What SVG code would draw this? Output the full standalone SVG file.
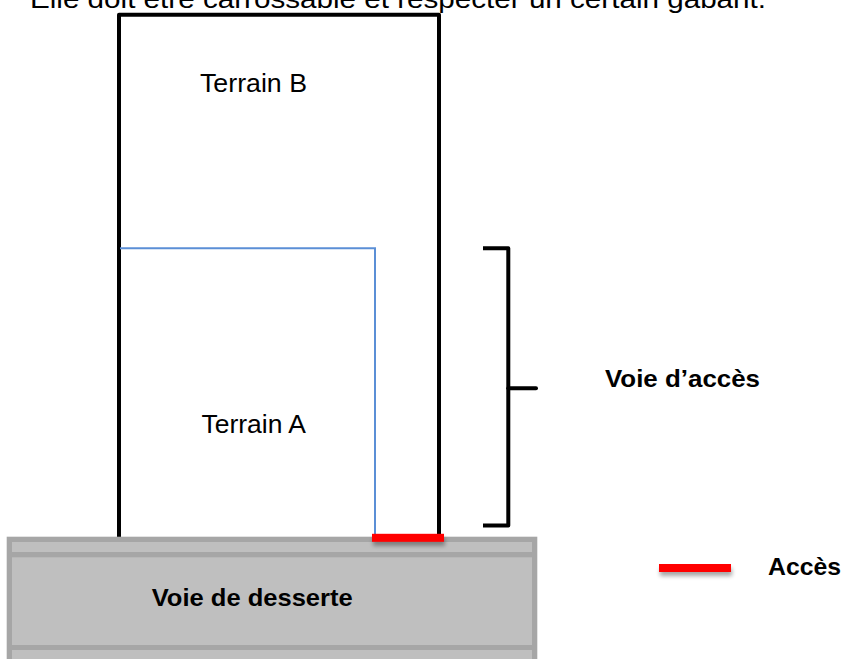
<svg xmlns="http://www.w3.org/2000/svg" width="844" height="659" viewBox="0 0 844 659">
  <style>
    .txt { font-family: "Liberation Sans", Arial, sans-serif; fill: #000; }
    .reg { font-size: 25.5px; }
    .bold { font-size: 24px; font-weight: bold; }
    .blk { fill: none; stroke: #000; stroke-width: 4; stroke-linejoin: round; }
    .blue { fill: none; stroke: #5b8fd6; stroke-width: 2; }
    .red { fill: #ff0000; filter: url(#shadow); }
  </style>
  <defs>
    <filter id="shadow" x="-20%" y="-100%" width="140%" height="400%">
      <feGaussianBlur in="SourceAlpha" stdDeviation="2"/>
      <feOffset dx="1" dy="4" result="b"/>
      <feComponentTransfer><feFuncA type="linear" slope="0.35"/></feComponentTransfer>
      <feMerge><feMergeNode/><feMergeNode in="SourceGraphic"/></feMerge>
    </filter>
  </defs>
  <rect width="844" height="659" fill="#fff"/>

  <text class="txt reg" x="30" y="7.5" textLength="736" lengthAdjust="spacingAndGlyphs">Elle doit être carrossable et respecter un certain gabarit.</text>

  <g id="terrainB">
    <path class="blk" d="M119,537 V14.7 H439 V537"/>
    <text class="txt reg" x="200" y="92" textLength="107" lengthAdjust="spacingAndGlyphs">Terrain B</text>
  </g>

  <g id="terrainA">
    <path class="blue" d="M120,248.3 H375 V537"/>
    <text class="txt reg" x="201.5" y="433.3" textLength="104.5" lengthAdjust="spacingAndGlyphs">Terrain A</text>
  </g>

  <g id="voie-desserte">
    <rect x="6.7" y="536.7" width="530.6" height="122.3" fill="#a6a6a6"/>
    <rect x="12" y="542" width="520" height="10" fill="#bfbfbf"/>
    <rect x="12" y="557.3" width="520" height="87.7" fill="#bfbfbf"/>
    <rect x="12" y="650" width="520" height="9" fill="#bfbfbf"/>
    <text class="txt bold" x="151.7" y="605.7" textLength="201" lengthAdjust="spacingAndGlyphs">Voie de desserte</text>
  </g>

  <g id="connectors">
    <path class="blk" d="M483,248.3 H508.3 V525.5 H483"/>
    <path class="blk" d="M508.3,388.3 H536" stroke-linecap="round"/>
    <rect class="red" x="372" y="533.8" width="72" height="8"/>
  </g>

  <g id="voie-acces">
    <text class="txt bold" x="605" y="386.7" textLength="155" lengthAdjust="spacingAndGlyphs">Voie  d’accès</text>
  </g>

  <g id="legend-acces">
    <rect class="red" x="659" y="564" width="72" height="8"/>
    <text class="txt bold" x="768" y="575" textLength="73" lengthAdjust="spacingAndGlyphs">Accès</text>
  </g>
</svg>
